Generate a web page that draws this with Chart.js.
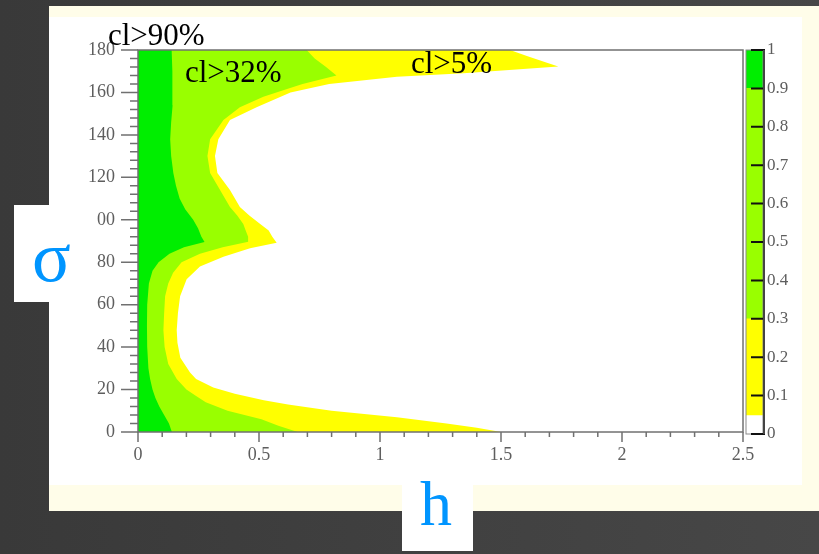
<!DOCTYPE html>
<html>
<head>
<meta charset="utf-8">
<script src="https://cdn.jsdelivr.net/npm/chart.js@4.4.1/dist/chart.umd.min.js"></script>
<style>
html, body { margin: 0; padding: 0; }
body {
    width: 819px; height: 554px; position: relative; overflow: hidden;
    background: linear-gradient(90deg, #393939, #474747);
}
#cream { position: absolute; left: 49px; top: 6px; width: 770px; height: 505px; background: #fffde9; }
#paper { position: absolute; left: 49px; top: 17px; width: 753px; height: 468px; background: #fff; }
#sigBox { position: absolute; left: 14px; top: 205px; width: 40px; height: 97px; background: #fff; }
#hBox { position: absolute; left: 402px; top: 453px; width: 71px; height: 98px; background: #fff; }
canvas { position: absolute; top: 0; }
#main { left: 0; }
#scaleBar { left: 700px; }
.big { position: absolute; font-family: 'Liberation Serif', 'DejaVu Serif', serif; color: #0095ff; }
.cl { position: absolute; font-family: 'Liberation Serif', 'DejaVu Serif', serif; font-size: 31px; line-height: 31px; color: #000; white-space: nowrap; }
</style>
</head>
<body>
<div id="cream"></div>
<div id="paper"></div>
<div id="sigBox"></div>
<div id="hBox"></div>
<canvas id="main" width="819" height="554"></canvas>
<canvas id="scaleBar" width="119" height="554"></canvas>
<div class="cl" style="left:108px;top:19px">cl&gt;90%</div>
<div class="cl" style="left:185px;top:56px">cl&gt;32%</div>
<div class="cl" style="left:411px;top:47px">cl&gt;5%</div>
<div class="big" style="left:32px;top:221px;font-size:72px;line-height:72px">σ</div>
<div class="big" style="left:420px;top:472px;font-size:64px;line-height:64px">h</div>

<script>
// === 数据：各置信区域边界 h(σ) ===
// cl>90%
const sigma90 = [0, 4, 8, 12, 16, 20, 25, 30, 40, 50, 60, 70, 76, 80, 84, 87, 89.5, 92, 96, 100, 105, 110, 116, 122, 130, 138, 146, 154, 162, 170, 180];
const h90 = [0.14, 0.128, 0.108, 0.088, 0.072, 0.06, 0.05, 0.043, 0.038, 0.037, 0.038, 0.045, 0.06, 0.085, 0.13, 0.19, 0.275, 0.262, 0.248, 0.228, 0.195, 0.172, 0.157, 0.146, 0.137, 0.133, 0.137, 0.143, 0.143, 0.141, 0.139];

// cl>32%
const sigma32 = [0, 3, 6, 10, 14, 17, 20, 25, 32, 40, 48, 56, 64, 70, 75, 80, 84, 87, 89.7, 92, 95, 98, 102, 106, 114, 122, 130, 138, 147, 153, 158, 161, 164, 168, 172, 176, 180];
const h32 = [0.66, 0.58, 0.51, 0.37, 0.28, 0.24, 0.2, 0.16, 0.125, 0.11, 0.105, 0.108, 0.112, 0.125, 0.145, 0.18, 0.256, 0.35, 0.456, 0.455, 0.445, 0.435, 0.41, 0.38, 0.339, 0.298, 0.287, 0.298, 0.353, 0.421, 0.518, 0.6, 0.68, 0.82, 0.777, 0.73, 0.697];

// cl>5%
const sigma5 = [0, 2, 4, 7, 10, 13, 15, 18, 21, 25, 28, 35, 42, 48, 56, 64, 72, 78, 82.6, 86.6, 89.2, 92, 95, 98, 102, 106, 114, 122, 130, 138, 147, 153, 160, 164, 167.4, 169, 172.2, 174, 177, 180];
const h5 = [1.5, 1.4, 1.275, 1.07, 0.8, 0.62, 0.52, 0.4, 0.311, 0.24, 0.215, 0.175, 0.163, 0.16, 0.165, 0.174, 0.201, 0.256, 0.353, 0.463, 0.573, 0.555, 0.54, 0.505, 0.46, 0.421, 0.38, 0.328, 0.318, 0.332, 0.38, 0.49, 0.63, 0.79, 1.07, 1.345, 1.737, 1.69, 1.61, 1.537];

// 刻度标签
const xLabelValues = [0, 0.5, 1, 1.5, 2, 2.5];
const xLabelText = ['0', '0.5', '1', '1.5', '2', '2.5'];
const yLabelValues = [0, 20, 40, 60, 80, 100, 120, 140, 160, 180];
const yLabelText = ['0', '20', '40', '60', '80', '00', '120', '140', '160', '180'];

// 色标
const levelLow = [0.05, 0.3, 0.9];
const levelHigh = [0.3, 0.9, 1];
const barLabelValues = [0, 0.1, 0.2, 0.3, 0.4, 0.5, 0.6, 0.7, 0.8, 0.9, 1];
const barLabelText = ['0', '0.1', '0.2', '0.3', '0.4', '0.5', '0.6', '0.7', '0.8', '0.9', '1'];

const GREEN = '#00ee00';
const LIME = '#99ff00';
const YELLOW = '#ffff00';
const levelColors = [YELLOW, LIME, GREEN];
const serif = "'Liberation Serif', 'DejaVu Serif', serif";
const axisFont = { family: serif, size: 18 };
const barFont = { family: serif, size: 17 };

function pickLabel(values, texts, v) {
    const i = values.findIndex(x => Math.abs(x - v) < 1e-6);
    return i >= 0 ? texts[i] : '';
}

// 区域多边形：沿 h=0 封闭
function region(sig, h) {
    const pts = sig.map((s, i) => ({ x: h[i], y: s }));
    return [{ x: 0, y: sig[0] }, ...pts, { x: 0, y: sig[sig.length - 1] }];
}

function area(sig, h, color) {
    return {
        data: region(sig, h),
        showLine: true,
        fill: 'shape',
        backgroundColor: color,
        borderWidth: 0,
        pointRadius: 0,
        tension: 0
    };
}

// 画框和 ROOT 风格的长短刻度
const axisTicks = {
    id: 'axisTicks',
    afterDraw(chart) {
        const { ctx, chartArea: a, scales } = chart;
        ctx.save();
        ctx.strokeStyle = '#707070';
        ctx.lineWidth = 1.5;
        ctx.strokeRect(a.left, a.top, a.right - a.left, a.bottom - a.top);
        ctx.beginPath();
        scales.x.ticks.forEach(t => {
            const px = scales.x.getPixelForValue(t.value);
            const len = t.label ? 10 : 5;
            ctx.moveTo(px, a.bottom);
            ctx.lineTo(px, a.bottom + len);
        });
        scales.y.ticks.forEach(t => {
            const py = scales.y.getPixelForValue(t.value);
            const len = t.label ? 17 : 8;
            ctx.moveTo(a.left, py);
            ctx.lineTo(a.left - len, py);
        });
        ctx.stroke();
        ctx.restore();
    }
};

new Chart(document.getElementById('main'), {
    type: 'scatter',
    data: {
        datasets: [
            area(sigma90, h90, GREEN),
            area(sigma32, h32, LIME),
            area(sigma5, h5, YELLOW)
        ]
    },
    options: {
        responsive: false,
        animation: false,
        layout: { padding: { left: 0, top: 50, right: 76, bottom: 0 } },
        plugins: { legend: { display: false }, tooltip: { enabled: false } },
        scales: {
            x: {
                type: 'linear', min: 0, max: 2.5,
                grid: { display: false, drawTicks: false },
                border: { display: false },
                ticks: {
                    stepSize: 0.1, autoSkip: false, maxRotation: 0, padding: 12,
                    color: '#5e5e5e', font: axisFont,
                    callback: v => pickLabel(xLabelValues, xLabelText, v)
                },
                afterFit: s => { s.height = 554 - 432; }
            },
            y: {
                type: 'linear', min: 0, max: 180,
                grid: { display: false, drawTicks: false },
                border: { display: false },
                ticks: {
                    stepSize: 4, autoSkip: false, padding: 23,
                    color: '#5e5e5e', font: axisFont,
                    callback: v => pickLabel(yLabelValues, yLabelText, v)
                },
                afterFit: s => { s.width = 138; }
            }
        }
    },
    plugins: [axisTicks]
});

// === 色标 ===
const barTicks = {
    id: 'barTicks',
    afterDraw(chart) {
        const { ctx, chartArea: a, scales } = chart;
        ctx.save();
        ctx.strokeStyle = '#8a8a8a';
        ctx.lineWidth = 1;
        ctx.strokeRect(a.left, a.top, a.right - a.left, a.bottom - a.top);
        ctx.strokeStyle = '#111';
        ctx.lineWidth = 2;
        ctx.beginPath();
        scales.y.ticks.forEach(t => {
            const py = scales.y.getPixelForValue(t.value);
            ctx.moveTo(a.right - 12, py);
            ctx.lineTo(a.right + 2, py);
        });
        ctx.stroke();
        ctx.strokeStyle = '#444';
        ctx.beginPath();
        ctx.moveTo(a.right + 1, a.top);
        ctx.lineTo(a.right + 1, a.bottom);
        ctx.stroke();
        ctx.restore();
    }
};

new Chart(document.getElementById('scaleBar'), {
    type: 'bar',
    data: {
        labels: ['cl'],
        datasets: levelLow.map((lo, i) => ({
            data: [[lo, levelHigh[i]]],
            backgroundColor: levelColors[i],
            borderWidth: 0,
            grouped: false,
            barPercentage: 1,
            categoryPercentage: 1
        }))
    },
    options: {
        responsive: false,
        animation: false,
        layout: { padding: { left: 46, top: 50, right: 0, bottom: 120 } },
        plugins: { legend: { display: false }, tooltip: { enabled: false } },
        scales: {
            x: { display: false },
            y: {
                position: 'right', min: 0, max: 1,
                grid: { display: false, drawTicks: false },
                border: { display: false },
                ticks: {
                    stepSize: 0.1, autoSkip: false, padding: 4,
                    color: '#5e5e5e', font: barFont,
                    callback: v => pickLabel(barLabelValues, barLabelText, v)
                },
                afterFit: s => { s.width = 56; }
            }
        }
    },
    plugins: [barTicks]
});
</script>
</body>
</html>
